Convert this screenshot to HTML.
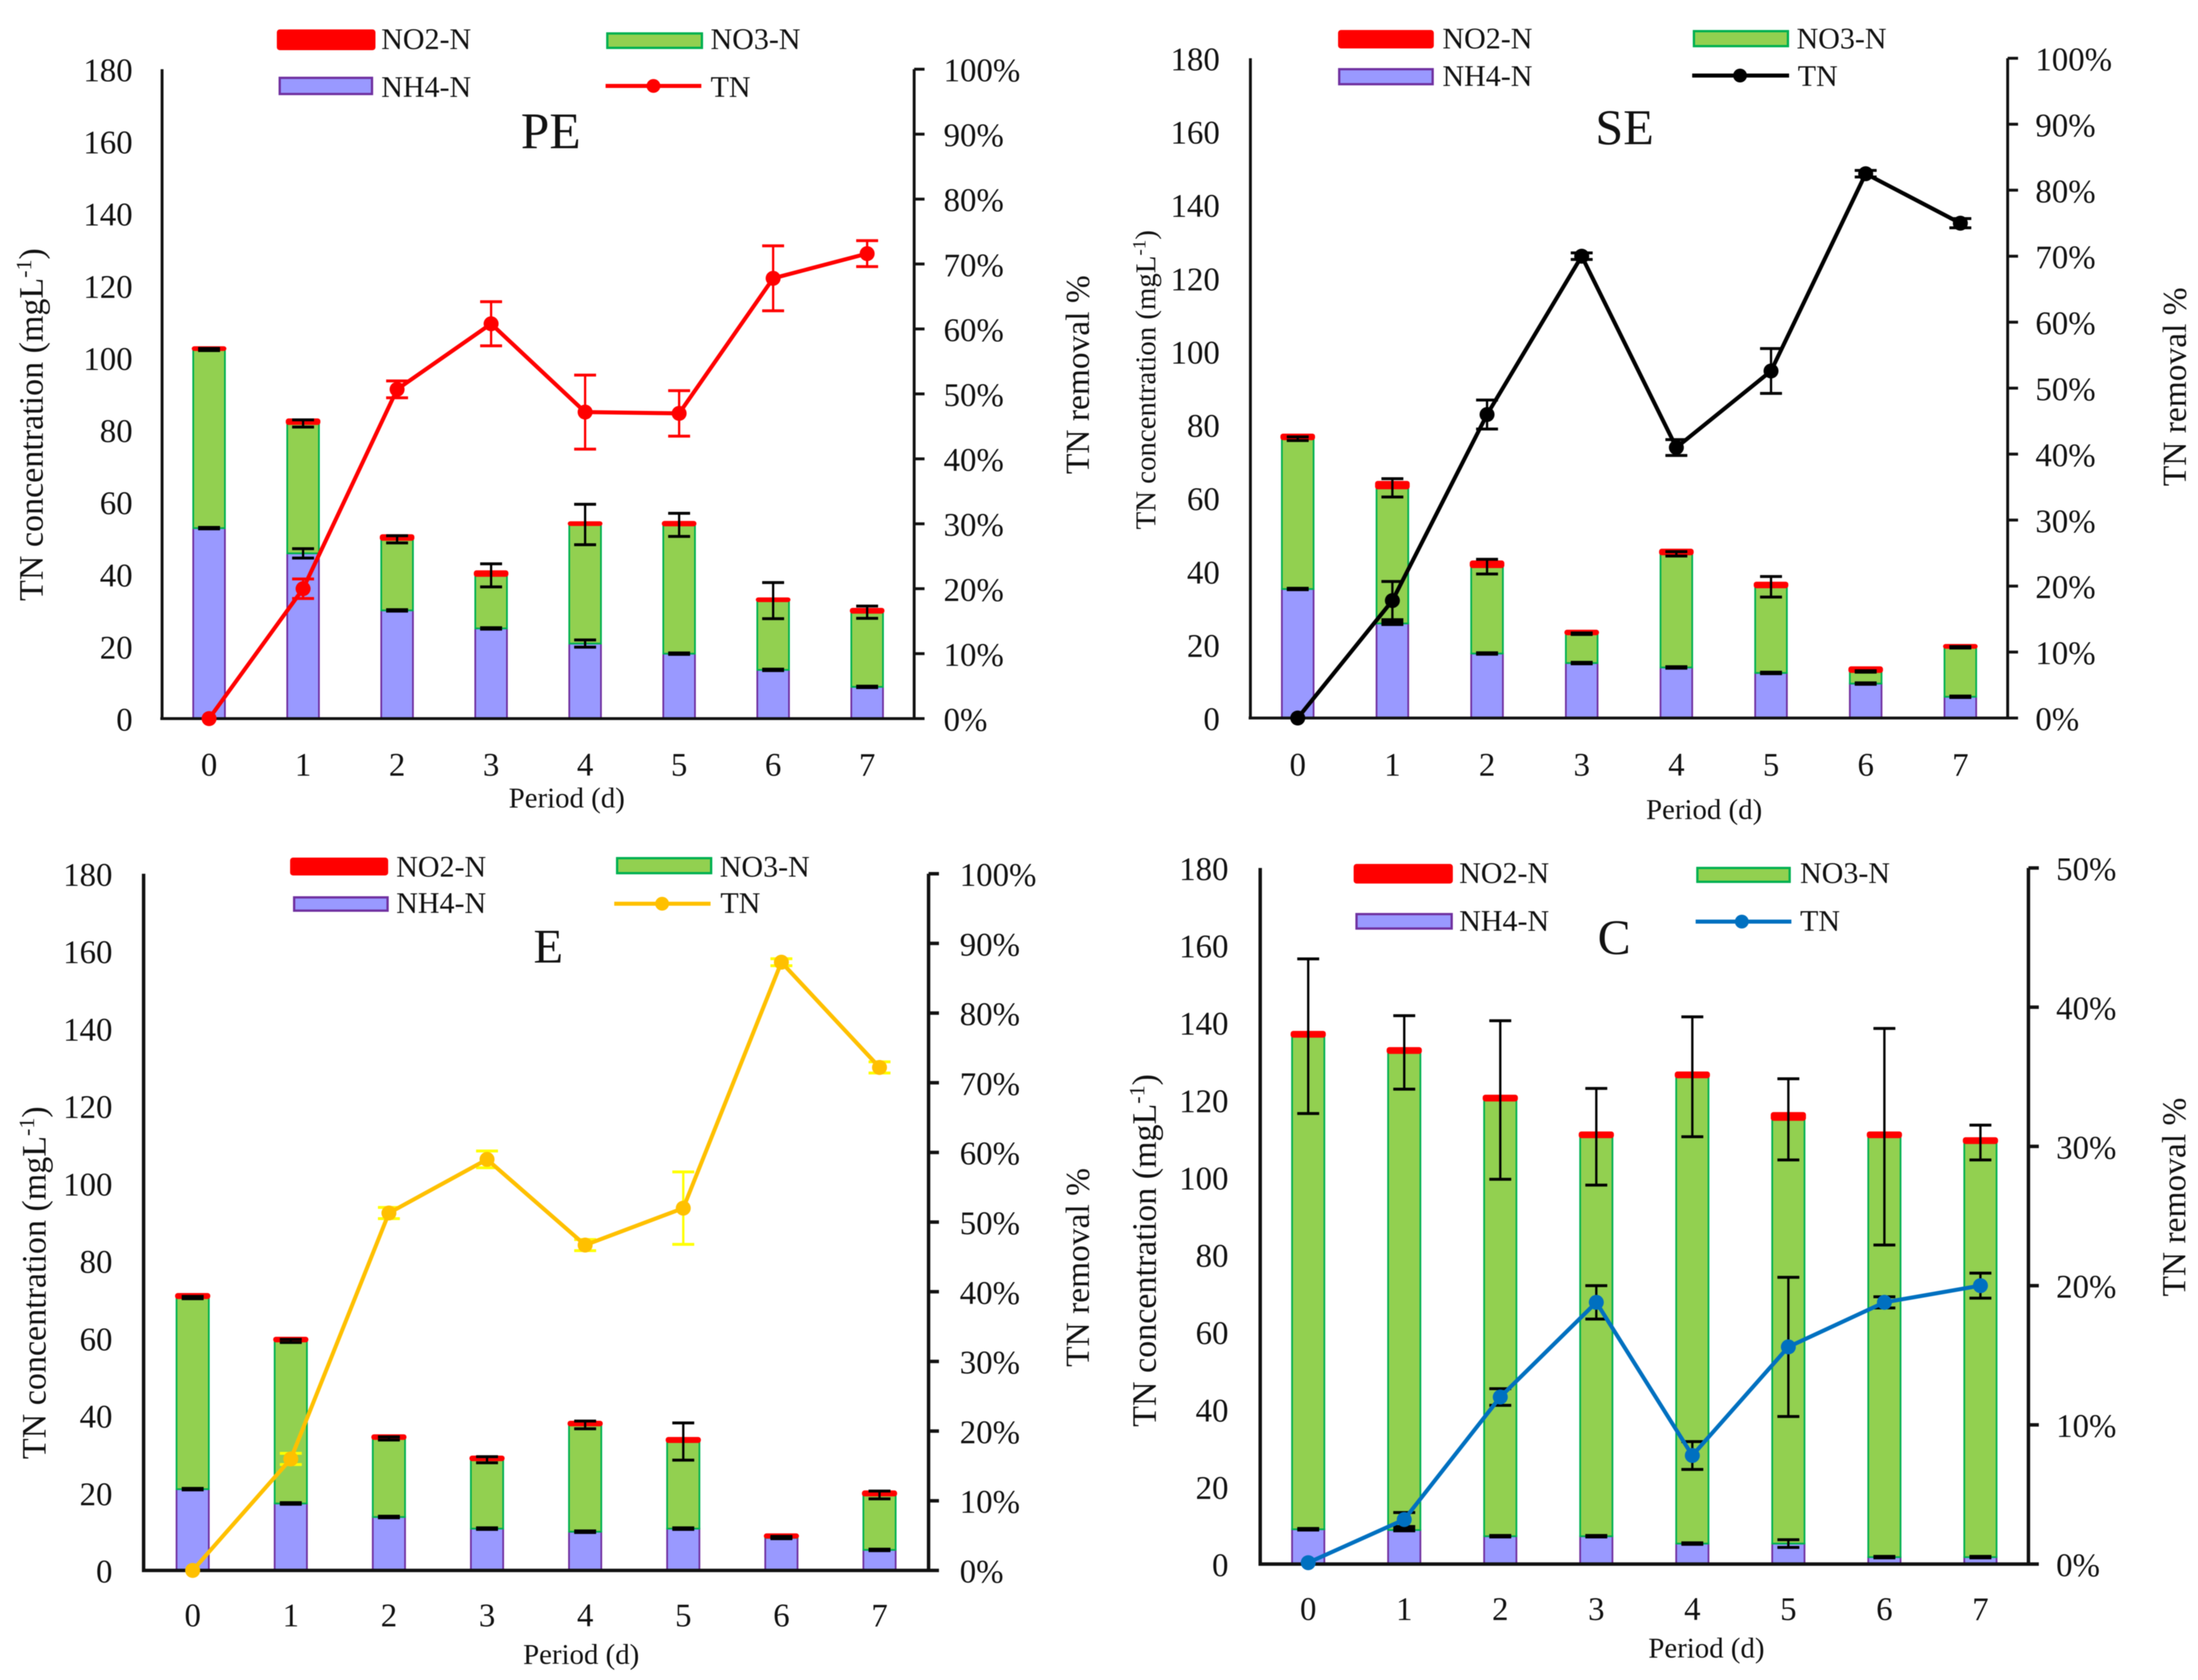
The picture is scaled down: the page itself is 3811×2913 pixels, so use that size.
<!DOCTYPE html>
<html lang="en">
<head>
<meta charset="utf-8">
<title>TN concentration and removal: PE, SE, E, C</title>
<style>
html,body{margin:0;padding:0;background:#fff;}
svg{display:block;filter:blur(0.9px);}
text{font-family:"Liberation Serif","Times New Roman",serif;fill:#111;}
.leg{font-size:52px;}
.per{font-size:50px;}
.ttl{font-size:87px;}
.yt{font-size:59px;}
.yr{font-size:58px;}
</style>
</head>
<body>
<svg id="fig" xmlns="http://www.w3.org/2000/svg" width="3811" height="2913" viewBox="0 0 3811 2913">
<rect width="3811" height="2913" fill="#fff"/>

<g id="chart-pe">
  <text class="ttl" x="903" y="257" style="font-size:89px">PE</text>
  <text class="per" x="882" y="1400">Period (d)</text>
  <text class="yt" transform="translate(74,1042) rotate(-90)">TN concentration (mgL<tspan font-size="38" dy="-20">-1</tspan><tspan dy="20">)</tspan></text>
  <text class="yr" transform="translate(1888,822) rotate(-90)">TN removal %</text>
  <g>
    <rect x="482" y="53" width="167" height="32" fill="#f00" stroke="#f00" stroke-width="4" rx="3"/>
    <text class="leg" x="661" y="85">NO2-N</text>
    <rect x="1053" y="58" width="164" height="25" fill="#92d050" stroke="#00b050" stroke-width="4"/>
    <text class="leg" x="1232" y="85">NO3-N</text>
    <rect x="485" y="135" width="160" height="28" fill="#9999ff" stroke="#7030a0" stroke-width="4"/>
    <text class="leg" x="661" y="168">NH4-N</text>
    <line x1="1050" x2="1216" y1="149" y2="149" stroke="#f00" stroke-width="7"/>
    <circle cx="1133" cy="149" r="12" fill="#f00"/>
    <text class="leg" x="1232" y="168">TN</text>
  </g>
</g>

<g id="chart-se">
  <text class="ttl" x="2766" y="250">SE</text>
  <text class="per" x="2854" y="1420">Period (d)</text>
  <text class="yt" style="font-size:50px" transform="translate(2003,918) rotate(-90)">TN concentration (mgL<tspan font-size="33" dy="-17">-1</tspan><tspan dy="17">)</tspan></text>
  <text class="yr" transform="translate(3790,843) rotate(-90)">TN removal %</text>
  <g>
    <rect x="2322" y="54" width="162" height="28" fill="#f00" stroke="#f00" stroke-width="4" rx="3"/>
    <text class="leg" x="2501" y="84">NO2-N</text>
    <rect x="2937" y="54" width="163" height="26" fill="#92d050" stroke="#00b050" stroke-width="4"/>
    <text class="leg" x="3115" y="84">NO3-N</text>
    <rect x="2322" y="120" width="162" height="26" fill="#9999ff" stroke="#7030a0" stroke-width="4"/>
    <text class="leg" x="2501" y="149">NH4-N</text>
    <line x1="2934" x2="3102" y1="131" y2="131" stroke="#000" stroke-width="7"/>
    <circle cx="3017" cy="131" r="12" fill="#000"/>
    <text class="leg" x="3117" y="149">TN</text>
  </g>
</g>

<g id="chart-e">
  <text class="ttl" x="925" y="1669" style="font-size:84px">E</text>
  <text class="per" x="907" y="2885">Period (d)</text>
  <text class="yt" transform="translate(79,2530) rotate(-90)">TN concentration (mgL<tspan font-size="38" dy="-20">-1</tspan><tspan dy="20">)</tspan></text>
  <text class="yr" transform="translate(1888,2370) rotate(-90)">TN removal %</text>
  <g>
    <rect x="505" y="1489" width="166" height="27" fill="#f00" stroke="#f00" stroke-width="4" rx="3"/>
    <text class="leg" x="687" y="1520">NO2-N</text>
    <rect x="1070" y="1488" width="163" height="26" fill="#92d050" stroke="#00b050" stroke-width="4"/>
    <text class="leg" x="1248" y="1520">NO3-N</text>
    <rect x="510" y="1556" width="162" height="23" fill="#9999ff" stroke="#7030a0" stroke-width="4"/>
    <text class="leg" x="687" y="1583">NH4-N</text>
    <line x1="1065" x2="1232" y1="1567" y2="1567" stroke="#ffc000" stroke-width="7"/>
    <circle cx="1148" cy="1567" r="12" fill="#ffc000"/>
    <text class="leg" x="1249" y="1583">TN</text>
  </g>
</g>

<g id="chart-c">
  <text class="ttl" x="2770" y="1654" style="font-size:86px">C</text>
  <text class="per" x="2858" y="2874">Period (d)</text>
  <text class="yt" transform="translate(2004,2474) rotate(-90)">TN concentration (mgL<tspan font-size="38" dy="-20">-1</tspan><tspan dy="20">)</tspan></text>
  <text class="yr" transform="translate(3789,2248) rotate(-90)">TN removal %</text>
  <g>
    <rect x="2349" y="1500" width="168" height="30" fill="#f00" stroke="#f00" stroke-width="4" rx="3"/>
    <text class="leg" x="2530" y="1531">NO2-N</text>
    <rect x="2943" y="1505" width="160" height="24" fill="#92d050" stroke="#00b050" stroke-width="4"/>
    <text class="leg" x="3121" y="1531">NO3-N</text>
    <rect x="2352" y="1585" width="165" height="25" fill="#9999ff" stroke="#7030a0" stroke-width="4"/>
    <text class="leg" x="2530" y="1614">NH4-N</text>
    <line x1="2940" x2="3106" y1="1598" y2="1598" stroke="#0070c0" stroke-width="7"/>
    <circle cx="3020" cy="1598" r="12" fill="#0070c0"/>
    <text class="leg" x="3121" y="1614">TN</text>
  </g>
</g>
</svg>

<script>
// Shared axis labels
const categories = ['0','1','2','3','4','5','6','7'];
const leftTicks = [0,20,40,60,80,100,120,140,160,180];
const rightTicks100 = [0,10,20,30,40,50,60,70,80,90,100];
const rightTicks50 = [0,10,20,30,40,50];

// PE values
const peNh4 = [52.8,45.8,30,25,20.8,18,13.5,8.8];
const peNo3 = [49.5,36,19.7,14.7,33,35.7,19.2,20.7];
const peNo2 = [0.5,1,1,1,0.5,0.7,0.5,0.8];
const peNh4Err = [0.2,1.3,0.2,0.2,1,0.2,0.2,0.2];
const peStackErr = [0.3,1,1,3.2,5.6,3.2,5,1.7];
const peTn = [0,20,50.7,60.8,47.2,47,67.8,71.6];
const peTnErr = [0,1.5,1.3,3.4,5.7,3.5,5,2];

// SE values
const seNh4 = [35.2,25.8,17.6,15,13.8,12.3,9.4,5.8];
const seNo3 = [41,37,23.7,8,31,23.5,3.3,13.5];
const seNo2 = [1,1.5,1.3,0.7,1,1,1,0.5];
const seNh4Err = [0.2,0.3,0.2,0.2,0.2,0.2,0.2,0.2];
const seStackErr = [0.5,2.5,2,0.2,0.6,2.8,0.2,0.2];
const seTn = [0,17.8,46,70,41,52.6,82.5,75];
const seTnErr = [0,2.9,2.2,0.5,1.2,3.4,0.5,0.7];

// E values
const eNh4 = [21,17.3,13.8,10.8,10,10.8,8.4,5.3];
const eNo3 = [49.5,42,20.3,17.8,27.6,22.5,0.2,14.2];
const eNo2 = [0.8,0.7,0.7,0.7,0.7,0.8,0.6,0.8];
const eNh4Err = [0.2,0.2,0.2,0.2,0.2,0.2,0.2,0.2];
const eStackErr = [0.3,0.4,0.4,0.8,1,4.8,0.2,1];
const eTn = [0,16,51.3,59,46.7,52,87.3,72.2];
const eTnErr = [0,0.8,0.8,1.2,0.8,5.2,0.5,0.8];

// C values
const cNh4 = [9,8.8,7.2,7.2,5.3,5.3,1.8,1.8];
const cNo3 = [127.5,123.5,112.8,103.3,120.7,109.7,108.7,107.2];
const cNo2 = [1,1,1,1,1,1.5,1,1];
const cNh4Err = [0.2,0.2,0.2,0.2,0.2,1,0.2,0.2];
const cStackErr = [20,9.5,20.5,12.5,15.5,10.5,28,4.5];
const cTn = [0.1,3.2,12,18.8,7.8,15.6,18.8,20];
const cTnErr = [0,0.5,0.6,1.2,1,5,0.4,0.9];

const charts = [
  {id:'chart-pe', nh4:peNh4, no3:peNo3, no2:peNo2, nh4Err:peNh4Err, stackErr:peStackErr, tn:peTn, tnErr:peTnErr, rTicks:rightTicks100,
   left:281, right:1585, top:120, bottom:1246, lblEnd:230, rLbl:1636, xLbl:1345, lineColor:'#ff0000', errColor:'#ff0000', axisW:5},
  {id:'chart-se', nh4:seNh4, no3:seNo3, no2:seNo2, nh4Err:seNh4Err, stackErr:seStackErr, tn:seTn, tnErr:seTnErr, rTicks:rightTicks100,
   left:2168, right:3481, top:101, bottom:1245, lblEnd:2115, rLbl:3529, xLbl:1345, lineColor:'#000000', errColor:'#000000', axisW:5},
  {id:'chart-e', nh4:eNh4, no3:eNo3, no2:eNo2, nh4Err:eNh4Err, stackErr:eStackErr, tn:eTn, tnErr:eTnErr, rTicks:rightTicks100,
   left:249, right:1610, top:1515, bottom:2723, lblEnd:195, rLbl:1664, xLbl:2820, lineColor:'#ffc000', errColor:'#ffff00', axisW:6},
  {id:'chart-c', nh4:cNh4, no3:cNo3, no2:cNo2, nh4Err:cNh4Err, stackErr:cStackErr, tn:cTn, tnErr:cTnErr, rTicks:rightTicks50,
   left:2185, right:3517, top:1505, bottom:2712, lblEnd:2130, rLbl:3565, xLbl:2809, lineColor:'#0070c0', errColor:'#000000', axisW:6}
];

const NS = 'http://www.w3.org/2000/svg';
function mk(tag, attrs, parent, txt) {
  const n = document.createElementNS(NS, tag);
  for (const k in attrs) n.setAttribute(k, attrs[k]);
  if (txt !== undefined) n.textContent = txt;
  parent.appendChild(n);
  return n;
}

function drawErr(g, name, cx, yHi, yLo, color, capW, sw) {
  let el = mk('line', {x1:cx, x2:cx, y1:yHi, y2:yLo, stroke:color, 'stroke-width':sw}, g);
  
  
  el = mk('line', {x1:cx-capW/2, x2:cx+capW/2, y1:yHi, y2:yHi, stroke:color, 'stroke-width':sw+1}, g);
  
  
  el = mk('line', {x1:cx-capW/2, x2:cx+capW/2, y1:yLo, y2:yLo, stroke:color, 'stroke-width':sw+1}, g);
  
  
}

charts.forEach(function (c) {
  const root = document.getElementById(c.id);
  const g = mk('g', {}, root);
  
  

  const step = (c.right - c.left) / categories.length;
  const x = function (i) { return c.left + step * (i + 0.5); };
  const yL = function (v) { return c.bottom - (v / 180) * (c.bottom - c.top); };
  const rMax = c.rTicks[c.rTicks.length - 1];
  const yR = function (v) { return c.bottom - (v / rMax) * (c.bottom - c.top); };
  const barW = step * 0.34 > 56 ? 56 : 55;

  // stacked bars
  categories.forEach(function (cat, i) {
    const cx = x(i);
    const t1 = c.nh4[i];
    const t2 = t1 + c.no3[i];
    const t3 = t2 + c.no2[i];
    let el = mk('rect', {x:cx-barW/2, y:yL(t1), width:barW, height:yL(0)-yL(t1), fill:'#9999ff', stroke:'#7030a0', 'stroke-width':3}, g);
    
    
    el = mk('rect', {x:cx-barW/2, y:yL(t2), width:barW, height:yL(t1)-yL(t2), fill:'#92d050', stroke:'#00b050', 'stroke-width':3}, g);
    
    
    el = mk('rect', {x:cx-barW/2, y:yL(t3), width:barW, height:yL(t2)-yL(t3), fill:'#ff0000', stroke:'#ff0000', 'stroke-width':5, rx:2}, g);
    
    
  });

  // axes
  let ax = mk('line', {x1:c.left, x2:c.left, y1:c.top, y2:c.bottom, stroke:'#111', 'stroke-width':c.axisW}, g);
  
  
  ax = mk('line', {x1:c.right, x2:c.right, y1:c.top, y2:c.bottom, stroke:'#111', 'stroke-width':c.axisW}, g);
  
  
  ax = mk('line', {x1:c.left-3, x2:c.right+18, y1:c.bottom, y2:c.bottom, stroke:'#111', 'stroke-width':c.axisW}, g);
  
  

  // left ticks
  leftTicks.forEach(function (v) {
    const t = mk('text', {x:c.lblEnd, y:yL(v)+21, 'text-anchor':'end', 'font-size':57}, g, String(v));
    
    
  });

  // right ticks
  c.rTicks.forEach(function (v) {
    const m = mk('line', {x1:c.right, x2:c.right+18, y1:yR(v), y2:yR(v), stroke:'#111', 'stroke-width':c.axisW}, g);
    
    
    const t = mk('text', {x:c.rLbl, y:yR(v)+21, 'font-size':57}, g, v + '%');
    
    
  });

  // x labels
  categories.forEach(function (cat, i) {
    const t = mk('text', {x:x(i), y:c.xLbl, 'text-anchor':'middle', 'font-size':57}, g, cat);
    
    
  });

  // bar error bars
  categories.forEach(function (cat, i) {
    const t1 = c.nh4[i];
    const t2 = t1 + c.no3[i];
    drawErr(g, 'error-nh4-day-' + cat, x(i), yL(t1+c.nh4Err[i]), yL(t1-c.nh4Err[i]), '#000', 38, 4);
    drawErr(g, 'error-total-day-' + cat, x(i), yL(t2+c.stackErr[i]), yL(t2-c.stackErr[i]), '#000', 38, 4);
  });

  // TN removal error bars, line, markers
  categories.forEach(function (cat, i) {
    if (c.tnErr[i] > 0) {
      drawErr(g, 'error-tn-day-' + cat, x(i), yR(c.tn[i]+c.tnErr[i]), yR(c.tn[i]-c.tnErr[i]), c.errColor, 38, 4);
    }
  });
  const pts = c.tn.map(function (v, i) { return x(i) + ',' + yR(v); }).join(' ');
  const pl = mk('polyline', {points:pts, fill:'none', stroke:c.lineColor, 'stroke-width':7, 'stroke-linejoin':'round'}, g);
  
  
  categories.forEach(function (cat, i) {
    const pt = mk('circle', {cx:x(i), cy:yR(c.tn[i]), r:13, fill:c.lineColor}, g);
    
    
  });
});
</script>
</body>
</html>
